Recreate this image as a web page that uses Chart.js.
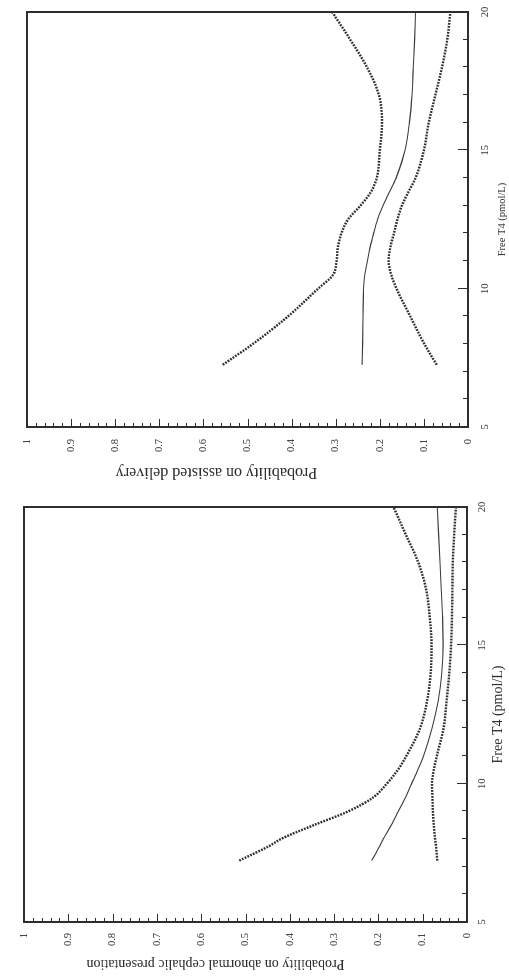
<!DOCTYPE html>
<html>
<head>
<meta charset="utf-8">
<script src="https://cdn.jsdelivr.net/npm/chart.js@4.4.1/dist/chart.umd.min.js"></script>
<style>
  html, body { margin: 0; padding: 0; background: #ffffff; }
  body { width: 509px; height: 979px; position: relative; overflow: hidden; }
  canvas { position: absolute; left: 0; top: 0; transform-origin: 0 0; }
  #c1 { transform: translate(0px, 490px) rotate(-90deg); }
  #c2 { transform: translate(0px, 979px) rotate(-90deg); }
</style>
</head>
<body>
<canvas id="c1" width="490" height="509"></canvas>
<canvas id="c2" width="489" height="509"></canvas>
<script>
// ---------- data ----------
// Panel A: probability of assisted delivery vs Free T4
const fT4A   = [7.25, 8, 9, 10, 10.5, 11, 11.5, 12, 12.5, 13, 13.5, 14, 15, 16, 17, 18, 19, 20];
const fitA   = [0.240, 0.239, 0.238, 0.237, 0.234, 0.228, 0.222, 0.214, 0.205, 0.193, 0.178, 0.163, 0.143, 0.133, 0.127, 0.124, 0.121, 0.119];
const upperA = [0.556, 0.488, 0.408, 0.340, 0.306, 0.298, 0.295, 0.287, 0.272, 0.244, 0.220, 0.207, 0.200, 0.195, 0.202, 0.229, 0.267, 0.308];
const lowerA = [0.071, 0.099, 0.131, 0.162, 0.174, 0.180, 0.176, 0.168, 0.160, 0.150, 0.135, 0.119, 0.100, 0.089, 0.074, 0.059, 0.047, 0.040];

// Panel B: probability of abnormal cephalic presentation vs Free T4
const fT4B   = [7.22, 7.75, 8, 8.5, 9, 9.5, 10, 10.5, 11, 12, 13, 14, 15, 16, 17, 18, 19, 20];
const fitB   = [0.215, 0.197, 0.189, 0.171, 0.155, 0.139, 0.125, 0.111, 0.098, 0.079, 0.065, 0.057, 0.054, 0.055, 0.058, 0.061, 0.064, 0.067];
const upperB = [0.514, 0.446, 0.420, 0.346, 0.268, 0.212, 0.181, 0.156, 0.137, 0.106, 0.090, 0.082, 0.080, 0.084, 0.092, 0.110, 0.138, 0.166];
const lowerB = [0.067, 0.070, 0.072, 0.075, 0.077, 0.078, 0.079, 0.075, 0.068, 0.053, 0.046, 0.040, 0.036, 0.034, 0.033, 0.032, 0.029, 0.025];

const xTitle = 'Free T4 (pmol/L)';
const yTitleA = 'Probability on assisted delivery';
const yTitleB = 'Probability on abnormal cephalic presentation';
const xTicks = [5, 10, 15, 20];
const yTickStep = 0.1;

// ---------- rendering ----------
const INK = '#2e2e2e';
const SERIF = "'Liberation Serif', 'Times New Roman', serif";

function pts(xs, ys) { return xs.map((x, i) => ({ x: x, y: ys[i] })); }

const framePlugin = {
  id: 'frameTicks',
  afterDraw(chart) {
    const { ctx, chartArea: a, scales: { x, y } } = chart;
    ctx.save();
    ctx.strokeStyle = INK;
    ctx.lineWidth = 1;
    // inward ticks on probability axis
    for (let k = 0; k <= 50; k++) {
      const py = Math.round(y.getPixelForValue(k / 50)) + 0.5;
      const len = (k % 5 === 0) ? 8 : 4;
      ctx.beginPath(); ctx.moveTo(a.left, py); ctx.lineTo(a.left + len, py); ctx.stroke();
    }
    // inward ticks on Free T4 axis
    for (let v = 5; v <= 20; v++) {
      const px = Math.round(x.getPixelForValue(v)) + 0.5;
      const len = (v % 5 === 0) ? 10 : 5;
      ctx.beginPath(); ctx.moveTo(px, a.bottom); ctx.lineTo(px, a.bottom - len); ctx.stroke();
    }
    // frame
    ctx.lineWidth = 2;
    ctx.strokeRect(a.left, a.top, a.right - a.left, a.bottom - a.top);
    ctx.restore();
  }
};

function makePanel(id, g, xs, fit, upper, lower, yTitle) {
  const titleShift = {
    id: 'titleShift',
    afterLayout(chart) {
      const s = chart.scales.y;
      if (!s._shiftPatched) {
        const orig = s.drawTitle;
        s.drawTitle = function () {
          const t = this.top, b = this.bottom;
          this.top += g.yTitleShift; this.bottom += g.yTitleShift;
          orig.call(this);
          this.top = t; this.bottom = b;
        };
        s._shiftPatched = true;
      }
    }
  };
  const dotted = { borderColor: INK, borderWidth: 2.4, borderDash: [1.8, 1.2], pointRadius: 0, fill: false, cubicInterpolationMode: 'monotone' };
  return new Chart(document.getElementById(id), {
    type: 'line',
    data: {
      datasets: [
        Object.assign({ label: 'Upper limit', data: pts(xs, upper) }, dotted),
        { label: 'Estimate', data: pts(xs, fit), borderColor: '#3a3a3a', borderWidth: 1.1, pointRadius: 0, fill: false, cubicInterpolationMode: 'monotone' },
        Object.assign({ label: 'Lower limit', data: pts(xs, lower) }, dotted)
      ]
    },
    options: {
      responsive: false,
      devicePixelRatio: 1,
      animation: false,
      layout: { padding: { left: g.padL, top: g.top, right: g.padR, bottom: g.padB } },
      plugins: { legend: { display: false }, tooltip: { enabled: false } },
      scales: {
        x: {
          type: 'linear', min: 5, max: 20,
          afterBuildTicks(scale) { scale.ticks = xTicks.map(v => ({ value: v })); },
          afterFit(scale) { scale.height = g.xAxisH; scale.paddingLeft = 0; scale.paddingRight = 0; },
          grid: { display: false, drawTicks: false },
          border: { display: false },
          ticks: { padding: g.xTickPad, font: { family: SERIF, size: 10.5 }, color: INK, maxRotation: 0, autoSkip: false },
          title: { display: true, text: xTitle, font: { family: SERIF, size: g.xTitleSize, lineHeight: 1.2 }, color: INK, padding: 0 }
        },
        y: {
          type: 'linear', min: 0, max: 1,
          afterFit(scale) { scale.width = g.yAxisW; scale.paddingTop = 0; scale.paddingBottom = 0; },
          grid: { display: false, drawTicks: false },
          border: { display: false },
          ticks: {
            stepSize: yTickStep, padding: g.yTickPad, color: INK,
            font: { family: SERIF, size: 10.5 },
            callback: v => String(Number(v.toFixed(1)))
          },
          title: { display: true, text: yTitle, font: { family: SERIF, size: g.yTitleSize, lineHeight: 1.2 }, color: INK, padding: 0 }
        }
      }
    },
    plugins: [framePlugin, titleShift]
  });
}

// geometry in the un-rotated canvas (x axis at bottom, probability at left)
makePanel('c1', {
  padL: 8, top: 27, padR: 12, padB: 0,
  yAxisW: 55, xAxisH: 41,
  xTickPad: 11, yTickPad: 12,
  xTitleSize: 10.5, yTitleSize: 16, yTitleShift: -31
}, fT4A, fitA, upperA, lowerA, yTitleA);

makePanel('c2', {
  padL: 7, top: 24, padR: 17, padB: 2,
  yAxisW: 50, xAxisH: 40,
  xTickPad: 9, yTickPad: 11,
  xTitleSize: 14, yTitleSize: 14, yTitleShift: -30
}, fT4B, fitB, upperB, lowerB, yTitleB);
</script>
</body>
</html>
